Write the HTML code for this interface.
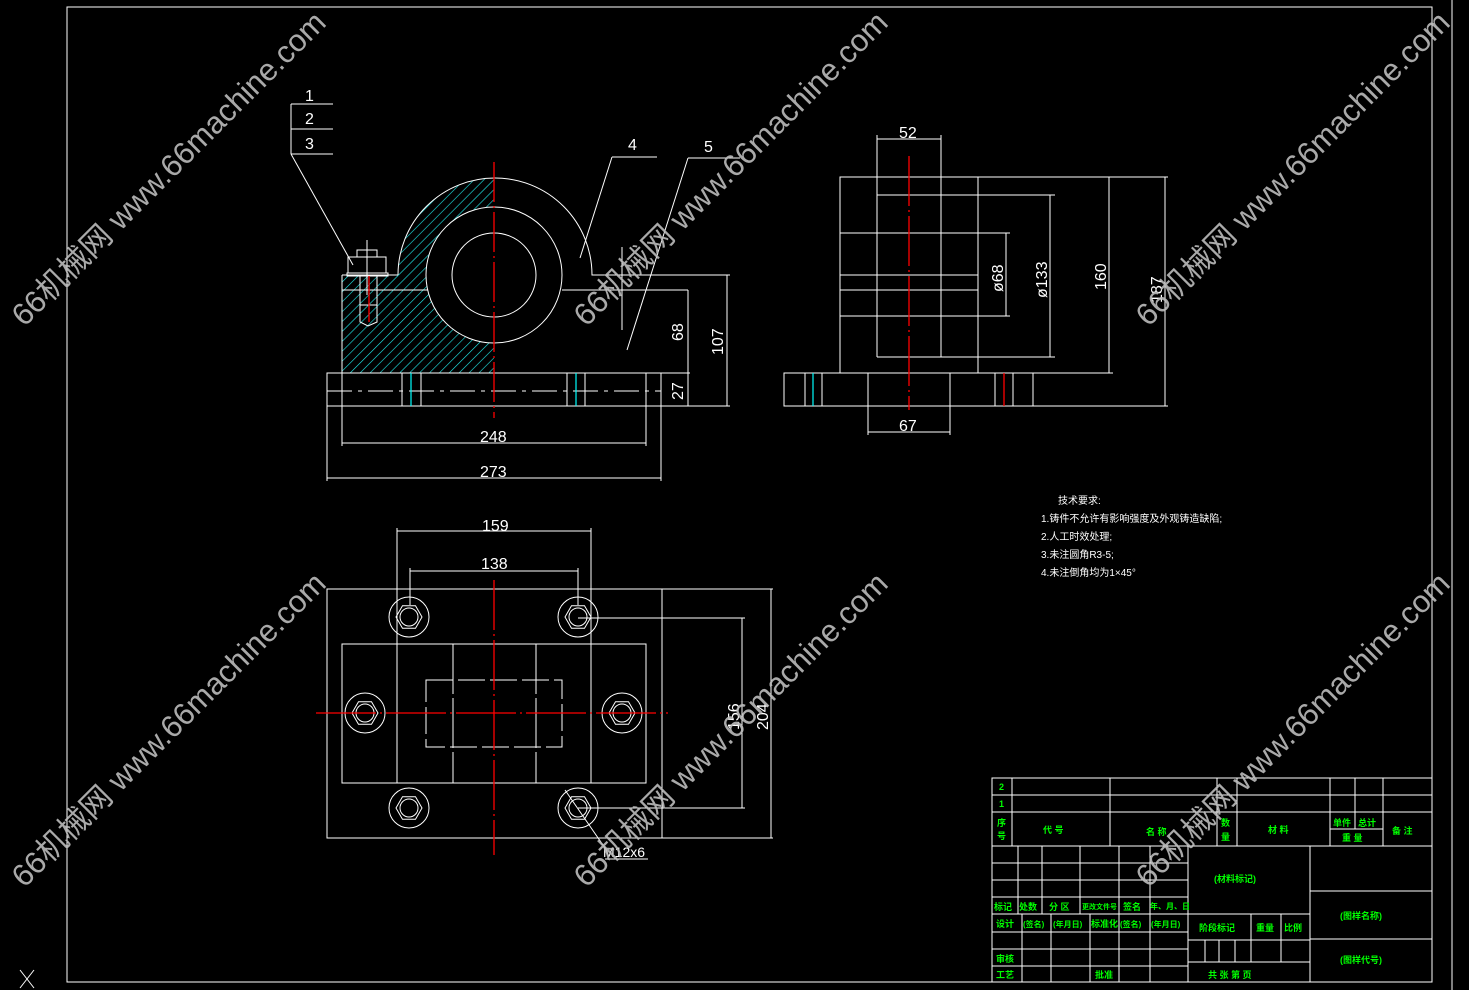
<!DOCTYPE html>
<html><head><meta charset="utf-8"><style>
html,body{margin:0;padding:0;background:#000;width:1469px;height:990px;overflow:hidden}
svg{display:block}
text{font-family:"Liberation Sans","Noto Sans CJK SC",sans-serif}
</style></head><body>
<svg width="1469" height="990" viewBox="0 0 1469 990" xmlns="http://www.w3.org/2000/svg">
<defs>
<pattern id="h" width="7" height="7" patternUnits="userSpaceOnUse" patternTransform="rotate(45)"><line x1="0" y1="0" x2="0" y2="7" stroke="#2ee" stroke-width="1.2"/></pattern>
<clipPath id="lh"><rect x="330" y="170" width="164" height="210"/></clipPath>
<polygon id="hex" points="13,0 6.5,11.3 -6.5,11.3 -13,0 -6.5,-11.3 6.5,-11.3"/>
</defs>
<rect width="1469" height="990" fill="#000"/>
<g fill="none" stroke="#fff" stroke-width="1">
<rect x="67" y="7" width="1365" height="975"/>
<line x1="1452" y1="0" x2="1452" y2="990"/>
<line x1="20" y1="970" x2="34" y2="988"/><line x1="34" y1="970" x2="20" y2="988"/>
</g>
<g clip-path="url(#lh)">
<path d="M342,373 L342,275 L398,275 A97,97 0 0 1 494,178 L494,373 Z M494,207 A68,68 0 0 0 494,343 Z" fill="url(#h)" fill-rule="evenodd"/>
</g>
<g fill="none" stroke="#fff" stroke-width="1">
<path d="M398,275 A97,97 0 0 1 592,275 L730,275"/>
<line x1="342" y1="275" x2="398" y2="275"/>
<circle cx="494" cy="275" r="68"/>
<circle cx="494" cy="275" r="42"/>
<line x1="342" y1="290" x2="428" y2="290"/>
<line x1="562" y1="290" x2="688" y2="290"/>
<line x1="342" y1="275" x2="342" y2="446"/>
<rect x="327" y="373" width="334" height="33"/>
<line x1="327" y1="406" x2="327" y2="481"/>
<line x1="661" y1="406" x2="661" y2="481"/>
<line x1="646" y1="373" x2="646" y2="446"/>
<line x1="661" y1="406" x2="730" y2="406"/>
<line x1="661" y1="373" x2="690" y2="373"/>
<line x1="402" y1="373" x2="402" y2="406"/><line x1="421" y1="373" x2="421" y2="406"/>
<line x1="567" y1="373" x2="567" y2="406"/><line x1="585" y1="373" x2="585" y2="406"/>
<line x1="327" y1="391" x2="661" y2="391" stroke-dasharray="25,6,4,6"/>
<line x1="622" y1="247" x2="622" y2="330"/>
<rect x="357" y="250" width="20" height="7"/>
<rect x="348" y="257" width="38" height="16"/>
<rect x="347" y="273" width="41" height="3"/>
<path d="M360,276 L360,322 L368,326 L377,322 L377,276"/>
<line x1="367" y1="240" x2="367" y2="295"/>
<line x1="360" y1="305" x2="377" y2="305"/>
<line x1="688" y1="290" x2="688" y2="406"/>
<line x1="727" y1="275" x2="727" y2="406"/>
<line x1="342" y1="443" x2="646" y2="443"/>
<line x1="327" y1="478" x2="661" y2="478"/>
<line x1="291" y1="104" x2="333" y2="104"/><line x1="291" y1="129" x2="333" y2="129"/><line x1="291" y1="154" x2="333" y2="154"/>
<line x1="291" y1="104" x2="291" y2="154"/>
<line x1="291" y1="154" x2="353" y2="265"/>
<line x1="612" y1="157" x2="657" y2="157"/><line x1="612" y1="157" x2="580" y2="258"/>
<line x1="688" y1="158" x2="740" y2="158"/><line x1="688" y1="158" x2="627" y2="350"/>
<rect x="840" y="177" width="138" height="196"/>
<line x1="978" y1="177" x2="1168" y2="177"/>
<line x1="877" y1="195" x2="1055" y2="195"/><line x1="877" y1="357" x2="1055" y2="357"/>
<line x1="840" y1="233" x2="1010" y2="233"/><line x1="840" y1="316" x2="1010" y2="316"/>
<line x1="840" y1="275" x2="978" y2="275"/><line x1="840" y1="290" x2="978" y2="290"/>
<line x1="877" y1="135" x2="877" y2="357"/><line x1="941" y1="135" x2="941" y2="357"/>
<line x1="877" y1="139" x2="941" y2="139"/>
<rect x="784" y="373" width="249" height="33"/>
<line x1="978" y1="373" x2="1113" y2="373"/>
<line x1="1033" y1="406" x2="1168" y2="406"/>
<line x1="805" y1="373" x2="805" y2="406"/><line x1="822" y1="373" x2="822" y2="406"/>
<line x1="868" y1="373" x2="868" y2="435"/><line x1="950" y1="373" x2="950" y2="435"/>
<line x1="868" y1="432" x2="950" y2="432"/>
<line x1="995" y1="373" x2="995" y2="406"/><line x1="1013" y1="373" x2="1013" y2="406"/>
<line x1="1006" y1="233" x2="1006" y2="316"/>
<line x1="1050" y1="195" x2="1050" y2="357"/>
<line x1="1109" y1="177" x2="1109" y2="373"/>
<line x1="1165" y1="177" x2="1165" y2="406"/>
<rect x="327" y="589" width="335" height="249"/>
<line x1="662" y1="589" x2="773" y2="589"/><line x1="662" y1="838" x2="773" y2="838"/>
<line x1="771" y1="589" x2="771" y2="838"/>
<line x1="578" y1="618" x2="745" y2="618"/><line x1="578" y1="808" x2="745" y2="808"/>
<line x1="742" y1="618" x2="742" y2="808"/>
<rect x="342" y="644" width="304" height="139"/>
<line x1="397" y1="528" x2="397" y2="783"/><line x1="591" y1="528" x2="591" y2="783"/>
<line x1="397" y1="531" x2="591" y2="531"/>
<line x1="410" y1="568" x2="410" y2="605"/><line x1="578" y1="568" x2="578" y2="605"/>
<line x1="410" y1="571" x2="578" y2="571"/>
<line x1="453" y1="644" x2="453" y2="783" stroke-dasharray="50,4"/>
<line x1="536" y1="644" x2="536" y2="783" stroke-dasharray="50,4"/>
<rect x="426" y="680" width="136" height="67" stroke-dasharray="27,5"/>
<g transform="translate(409,617)"><circle r="20"/><use href="#hex"/><circle r="9"/></g>
<g transform="translate(578,617)"><circle r="20"/><use href="#hex"/><circle r="9"/></g>
<g transform="translate(365,713)"><circle r="20"/><use href="#hex"/><circle r="9"/></g>
<g transform="translate(622,713)"><circle r="20"/><use href="#hex"/><circle r="9"/></g>
<g transform="translate(409,808)"><circle r="20"/><use href="#hex"/><circle r="9"/></g>
<g transform="translate(578,808)"><circle r="20"/><use href="#hex"/><circle r="9"/></g>
<line x1="565" y1="790" x2="605" y2="848"/>
<line x1="605" y1="859" x2="648" y2="859"/>
</g>
<g stroke="#f00" stroke-width="1.3" fill="none">
<line x1="494" y1="162" x2="494" y2="418" stroke-dasharray="40,4,2,4"/>
<line x1="909" y1="156" x2="909" y2="410" stroke-dasharray="50,4,2,4"/>
<line x1="1004" y1="373" x2="1004" y2="406"/>
<line x1="494" y1="580" x2="494" y2="855" stroke-dasharray="50,4,2,4"/>
<line x1="316" y1="713" x2="668" y2="713" stroke-dasharray="60,4,2,4"/>
<line x1="369" y1="276" x2="369" y2="322"/>
</g>
<g stroke="#0ff" stroke-width="1.2"><line x1="411" y1="373" x2="411" y2="406"/><line x1="576" y1="373" x2="576" y2="406"/><line x1="813" y1="373" x2="813" y2="406"/></g>
<g fill="#fff" font-size="16" font-family="Liberation Serif,serif">
<text x="305" y="101">1</text><text x="305" y="124">2</text><text x="305" y="149">3</text>
<text x="628" y="150">4</text><text x="704" y="152">5</text>
<text x="480" y="442">248</text><text x="480" y="477">273</text>
<text x="482" y="531">159</text><text x="481" y="569">138</text>
<text x="899" y="138">52</text><text x="899" y="431">67</text>
<text transform="translate(683,341) rotate(-90)">68</text>
<text transform="translate(723,355) rotate(-90)">107</text>
<text transform="translate(683,400) rotate(-90)">27</text>
<text transform="translate(1003,292) rotate(-90)">ø68</text>
<text transform="translate(1047,298) rotate(-90)">ø133</text>
<text transform="translate(1106,290) rotate(-90)">160</text>
<text transform="translate(1162,303) rotate(-90)">187</text>
<text transform="translate(739,730) rotate(-90)">156</text>
<text transform="translate(768,730) rotate(-90)">204</text>
<text x="603" y="857" font-size="14">M12x6</text>
</g>
<g fill="#fff" font-size="10">
<text x="1058" y="504">技术要求:</text>
<text x="1041" y="522">1.铸件不允许有影响强度及外观铸造缺陷;</text>
<text x="1041" y="540">2.人工时效处理;</text>
<text x="1041" y="558">3.未注圆角R3-5;</text>
<text x="1041" y="576">4.未注倒角均为1×45°</text>
</g>
<g stroke="#fff" fill="none" stroke-width="1">
<rect x="992" y="778" width="440" height="204"/>
<line x1="992" y1="795" x2="1432" y2="795"/><line x1="992" y1="812" x2="1432" y2="812"/><line x1="992" y1="846" x2="1432" y2="846"/>
<line x1="1012" y1="778" x2="1012" y2="846"/><line x1="1110" y1="778" x2="1110" y2="846"/>
<line x1="1217" y1="778" x2="1217" y2="846"/><line x1="1237" y1="778" x2="1237" y2="846"/>
<line x1="1330" y1="778" x2="1330" y2="846"/><line x1="1355" y1="778" x2="1355" y2="829"/>
<line x1="1383" y1="778" x2="1383" y2="846"/><line x1="1330" y1="829" x2="1383" y2="829"/>
<line x1="992" y1="863" x2="1188" y2="863"/><line x1="992" y1="880" x2="1188" y2="880"/>
<line x1="992" y1="897" x2="1188" y2="897"/><line x1="992" y1="914" x2="1188" y2="914"/>
<line x1="992" y1="932" x2="1188" y2="932"/><line x1="992" y1="949" x2="1188" y2="949"/>
<line x1="992" y1="966" x2="1188" y2="966"/>
<line x1="1018" y1="846" x2="1018" y2="914"/><line x1="1042" y1="846" x2="1042" y2="914"/>
<line x1="1080" y1="846" x2="1080" y2="914"/><line x1="1119" y1="846" x2="1119" y2="982"/>
<line x1="1150" y1="846" x2="1150" y2="982"/>
<line x1="1022" y1="914" x2="1022" y2="982"/><line x1="1051" y1="914" x2="1051" y2="982"/>
<line x1="1090" y1="914" x2="1090" y2="982"/>
<line x1="1188" y1="846" x2="1188" y2="982"/><line x1="1310" y1="846" x2="1310" y2="982"/>
<line x1="1310" y1="891" x2="1432" y2="891"/><line x1="1310" y1="939" x2="1432" y2="939"/>
<line x1="1188" y1="914" x2="1310" y2="914"/><line x1="1188" y1="940" x2="1310" y2="940"/>
<line x1="1188" y1="962" x2="1310" y2="962"/>
<line x1="1205" y1="940" x2="1205" y2="962"/><line x1="1219" y1="940" x2="1219" y2="962"/>
<line x1="1235" y1="940" x2="1235" y2="962"/><line x1="1251" y1="914" x2="1251" y2="962"/>
<line x1="1281" y1="914" x2="1281" y2="962"/>
</g>
<g fill="#0f0" font-size="9" font-weight="bold">
<text x="999" y="790">2</text><text x="999" y="807">1</text>
<text x="997" y="826">序</text><text x="997" y="839">号</text>
<text x="1043" y="833">代 号</text><text x="1146" y="835">名 称</text>
<text x="1221" y="826">数</text><text x="1221" y="840">量</text>
<text x="1268" y="833">材 料</text>
<text x="1333" y="826">单件</text><text x="1358" y="826">总计</text>
<text x="1342" y="841">重 量</text><text x="1392" y="834">备 注</text>
<text x="1214" y="882">(材料标记)</text>
<text x="1340" y="919">(图样名称)</text>
<text x="1340" y="963">(图样代号)</text>
<text x="994" y="910">标记</text><text x="1019" y="910">处数</text><text x="1049" y="910">分 区</text>
<text x="1082" y="909" font-size="7">更改文件号</text><text x="1123" y="910">签名</text><text x="1150" y="909" font-size="8">年、月、日</text>
<text x="996" y="927">设计</text><text x="1023" y="927" font-size="8">(签名)</text><text x="1053" y="927" font-size="8">(年月日)</text>
<text x="1091" y="927">标准化</text><text x="1120" y="927" font-size="8">(签名)</text><text x="1151" y="927" font-size="8">(年月日)</text>
<text x="1199" y="931">阶段标记</text><text x="1256" y="931">重量</text><text x="1284" y="931">比例</text>
<text x="996" y="962">审核</text><text x="996" y="978">工艺</text><text x="1095" y="978">批准</text>
<text x="1208" y="978">共  张 第  页</text>
</g>
<g fill="#bbb" fill-opacity="0.9" font-size="31" text-anchor="middle">
<text transform="translate(176,176) rotate(-45)">66机械网 www.66machine.com</text>
<text transform="translate(738,176) rotate(-45)">66机械网 www.66machine.com</text>
<text transform="translate(1300,176) rotate(-45)">66机械网 www.66machine.com</text>
<text transform="translate(176,737) rotate(-45)">66机械网 www.66machine.com</text>
<text transform="translate(738,737) rotate(-45)">66机械网 www.66machine.com</text>
<text transform="translate(1300,737) rotate(-45)">66机械网 www.66machine.com</text>
</g>
</svg>
</body></html>
